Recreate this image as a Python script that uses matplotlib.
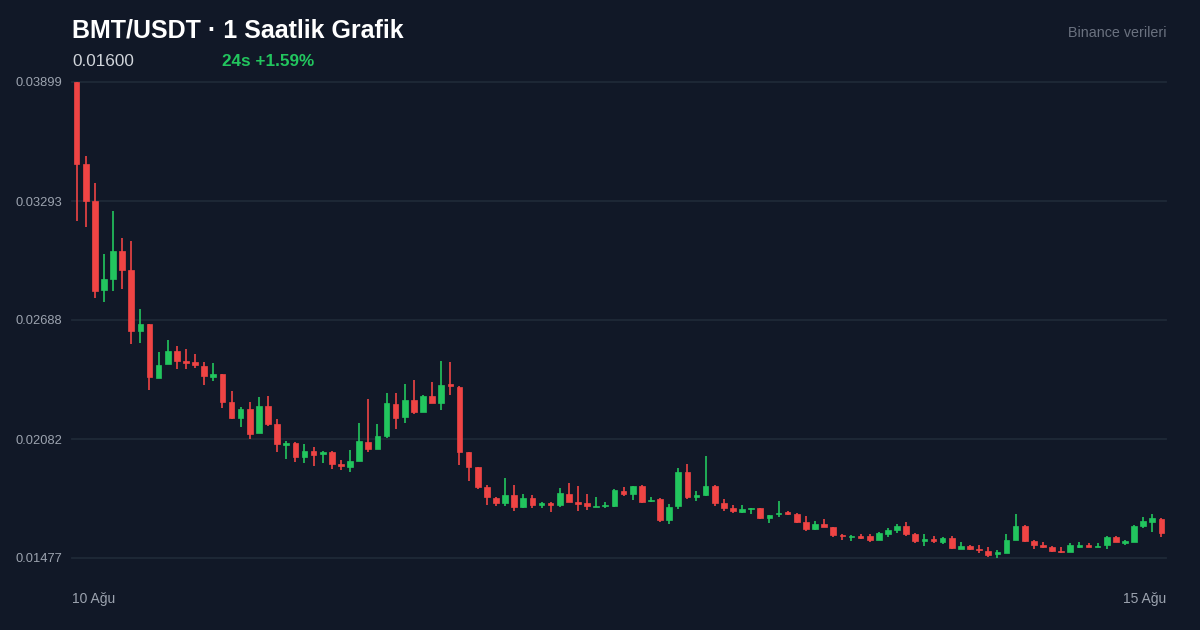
import matplotlib
matplotlib.use("Agg")
import matplotlib.pyplot as plt
import numpy as np

# ---- data (BMT/USDT hourly candles, 10-15 Aug) ----
opens = [0.03899, 0.03480, 0.03295, 0.02841, 0.02895, 0.03039, 0.02941, 0.02632, 0.02666, 0.02394,
         0.02463, 0.02530, 0.02479, 0.02473, 0.02456, 0.02399, 0.02412, 0.02272, 0.02188, 0.02234,
         0.02111, 0.02250, 0.02159, 0.02053, 0.02061, 0.01992, 0.02021, 0.02006, 0.02016, 0.01954,
         0.01940, 0.01971, 0.02069, 0.02033, 0.02099, 0.02262, 0.02193, 0.02283, 0.02220, 0.02301,
         0.02267, 0.02362, 0.02347, 0.02015, 0.01942, 0.01837, 0.01784, 0.01755, 0.01798, 0.01736,
         0.01784, 0.01747, 0.01757, 0.01747, 0.01803, 0.01762, 0.01755, 0.01735, 0.01740, 0.01743,
         0.01818, 0.01801, 0.01843, 0.01769, 0.01777, 0.01670, 0.01742, 0.01916, 0.01786, 0.01798,
         0.01843, 0.01755, 0.01731, 0.01713, 0.01726, 0.01730, 0.01679, 0.01701, 0.01709, 0.01702,
         0.01659, 0.01624, 0.01650, 0.01633, 0.01594, 0.01584, 0.01589, 0.01589, 0.01569, 0.01601,
         0.01619, 0.01640, 0.01601, 0.01565, 0.01574, 0.01560, 0.01577, 0.01524, 0.01540, 0.01524,
         0.01513, 0.01496, 0.01501, 0.01569, 0.01640, 0.01564, 0.01542, 0.01531, 0.01513, 0.01509,
         0.01534, 0.01543, 0.01531, 0.01543, 0.01584, 0.01552, 0.01560, 0.01640, 0.01662, 0.01674]
highs = [0.03899, 0.03522, 0.03383, 0.03025, 0.03244, 0.03104, 0.03090, 0.02745, 0.02666, 0.02527,
         0.02586, 0.02556, 0.02539, 0.02515, 0.02476, 0.02468, 0.02412, 0.02327, 0.02244, 0.02272,
         0.02296, 0.02301, 0.02184, 0.02072, 0.02066, 0.02057, 0.02040, 0.02023, 0.02021, 0.01976,
         0.02027, 0.02164, 0.02284, 0.02157, 0.02318, 0.02315, 0.02361, 0.02381, 0.02306, 0.02371,
         0.02478, 0.02474, 0.02352, 0.02016, 0.01942, 0.01848, 0.01789, 0.01883, 0.01847, 0.01803,
         0.01796, 0.01762, 0.01763, 0.01833, 0.01857, 0.01842, 0.01801, 0.01786, 0.01763, 0.01827,
         0.01838, 0.01843, 0.01847, 0.01787, 0.01782, 0.01750, 0.01936, 0.01954, 0.01818, 0.01998,
         0.01848, 0.01777, 0.01747, 0.01747, 0.01731, 0.01731, 0.01696, 0.01767, 0.01715, 0.01707,
         0.01691, 0.01665, 0.01675, 0.01636, 0.01598, 0.01594, 0.01599, 0.01598, 0.01608, 0.01630,
         0.01651, 0.01660, 0.01606, 0.01598, 0.01589, 0.01585, 0.01589, 0.01560, 0.01543, 0.01543,
         0.01533, 0.01518, 0.01599, 0.01701, 0.01645, 0.01569, 0.01558, 0.01538, 0.01534, 0.01552,
         0.01558, 0.01552, 0.01552, 0.01589, 0.01589, 0.01569, 0.01645, 0.01686, 0.01701, 0.01679]
lows = [0.03193, 0.03163, 0.02801, 0.02781, 0.02837, 0.02844, 0.02564, 0.02572, 0.02330, 0.02394,
        0.02463, 0.02437, 0.02437, 0.02445, 0.02357, 0.02379, 0.02239, 0.02184, 0.02145, 0.02085,
        0.02111, 0.02149, 0.02015, 0.01979, 0.01967, 0.01962, 0.01947, 0.01962, 0.01931, 0.01923,
        0.01913, 0.01971, 0.02018, 0.02033, 0.02087, 0.02133, 0.02162, 0.02211, 0.02220, 0.02266,
        0.02230, 0.02308, 0.01949, 0.01871, 0.01827, 0.01747, 0.01742, 0.01742, 0.01718, 0.01733,
        0.01731, 0.01733, 0.01709, 0.01738, 0.01763, 0.01716, 0.01721, 0.01735, 0.01731, 0.01738,
        0.01794, 0.01774, 0.01758, 0.01763, 0.01660, 0.01651, 0.01725, 0.01779, 0.01767, 0.01794,
        0.01743, 0.01718, 0.01704, 0.01707, 0.01701, 0.01675, 0.01655, 0.01687, 0.01697, 0.01654,
        0.01616, 0.01619, 0.01636, 0.01585, 0.01569, 0.01564, 0.01575, 0.01560, 0.01569, 0.01584,
        0.01603, 0.01589, 0.01552, 0.01540, 0.01552, 0.01548, 0.01523, 0.01524, 0.01518, 0.01504,
        0.01484, 0.01477, 0.01501, 0.01569, 0.01560, 0.01523, 0.01528, 0.01508, 0.01504, 0.01509,
        0.01526, 0.01534, 0.01531, 0.01521, 0.01560, 0.01543, 0.01560, 0.01629, 0.01611, 0.01585]
closes = [0.03480, 0.03295, 0.02837, 0.02895, 0.03039, 0.02942, 0.02632, 0.02666, 0.02398, 0.02459,
          0.02530, 0.02479, 0.02471, 0.02459, 0.02401, 0.02412, 0.02272, 0.02188, 0.02234, 0.02108,
          0.02250, 0.02159, 0.02055, 0.02062, 0.01991, 0.02021, 0.02001, 0.02016, 0.01955, 0.01944,
          0.01969, 0.02072, 0.02030, 0.02099, 0.02264, 0.02191, 0.02281, 0.02220, 0.02301, 0.02266,
          0.02359, 0.02352, 0.02018, 0.01942, 0.01837, 0.01786, 0.01758, 0.01798, 0.01738, 0.01784,
          0.01747, 0.01755, 0.01748, 0.01806, 0.01763, 0.01753, 0.01743, 0.01742, 0.01747, 0.01823,
          0.01803, 0.01842, 0.01763, 0.01774, 0.01670, 0.01737, 0.01916, 0.01786, 0.01798, 0.01843,
          0.01758, 0.01733, 0.01715, 0.01728, 0.01731, 0.01679, 0.01696, 0.01707, 0.01701, 0.01660,
          0.01626, 0.01650, 0.01636, 0.01594, 0.01589, 0.01589, 0.01580, 0.01570, 0.01603, 0.01621,
          0.01640, 0.01601, 0.01565, 0.01575, 0.01565, 0.01580, 0.01526, 0.01540, 0.01524, 0.01518,
          0.01491, 0.01506, 0.01569, 0.01638, 0.01564, 0.01543, 0.01531, 0.01513, 0.01506, 0.01543,
          0.01543, 0.01534, 0.01540, 0.01585, 0.01560, 0.01565, 0.01640, 0.01665, 0.01679, 0.01603]

y_ticks = [0.03899, 0.03293, 0.02688, 0.02082, 0.01477]
y_tick_labels = ["0.03899", "0.03293", "0.02688", "0.02082", "0.01477"]
x_labels = ["10 Ağu", "15 Ağu"]

title = "BMT/USDT · 1 Saatlik Grafik"
price_text = "0.01600"
change_text = "24s +1.59%"
source_text = "Binance verileri"

# ---- style ----
BG = "#111827"
GRID = "#1f2937"
UP = "#22c55e"
DOWN = "#ef4444"
TICK = "#9ca3af"
plt.rcParams['font.family'] = ['Liberation Sans', 'DejaVu Sans']

W, H = 1200, 630
fig = plt.figure(figsize=(W / 100, H / 100), dpi=100, facecolor=BG)
ax_left, ax_right, ax_top, ax_bot = 72, 1166, 82, 558
ax = fig.add_axes([ax_left / W, 1 - ax_bot / H, (ax_right - ax_left) / W, (ax_bot - ax_top) / H])
ax.set_facecolor(BG)

o = np.array(opens); h = np.array(highs); l = np.array(lows); c = np.array(closes)
n = len(o)
x = np.arange(n)
up = c >= o
colors = np.where(up, UP, DOWN)

ymin, ymax = min(y_ticks), max(y_ticks)
ax.set_xlim(-0.5, n - 0.5)
ax.set_ylim(ymin, ymax)

for t in y_ticks:
    ax.axhline(t, color=GRID, lw=1.3, zorder=0, clip_on=False)

ax.vlines(x, l, h, colors=colors, lw=1.2, zorder=2, clip_on=False)
body_bottom = np.minimum(o, c)
body_h = np.maximum(np.abs(c - o), 0.00003)
ax.bar(x, body_h, bottom=body_bottom, width=0.62, color=colors, edgecolor=colors,
       linewidth=0.5, zorder=3, clip_on=False)

for s in ax.spines.values():
    s.set_visible(False)
ax.set_xticks([]); ax.set_yticks([])

ytrans = ax.get_yaxis_transform()
for t, lab in zip(y_ticks, y_tick_labels):
    ax.text((15 - ax_left) / (ax_right - ax_left), t, lab, transform=ytrans,
            ha='left', va='center_baseline', color=TICK, fontsize=9.3)

fig.text(ax_left / W, 1 - 599 / H, x_labels[0], ha='left', va='center', color=TICK, fontsize=10)
fig.text(ax_right / W, 1 - 599 / H, x_labels[-1], ha='right', va='center', color=TICK, fontsize=10)

fig.text(72 / W, 1 - 31 / H, title, ha='left', va='center', color='white',
         fontsize=18, fontweight='bold')
fig.text(72 / W, 1 - 61 / H, price_text, ha='left', va='center', color='#d1d5db', fontsize=12.3)
fig.text(222 / W, 1 - 61 / H, change_text, ha='left', va='center', color=UP,
         fontsize=12.3, fontweight='bold')
fig.text(1166 / W, 1 - 33 / H, source_text, ha='right', va='center', color='#6b7280', fontsize=10.3)

fig.savefig("out.png", dpi=100, facecolor=BG)
